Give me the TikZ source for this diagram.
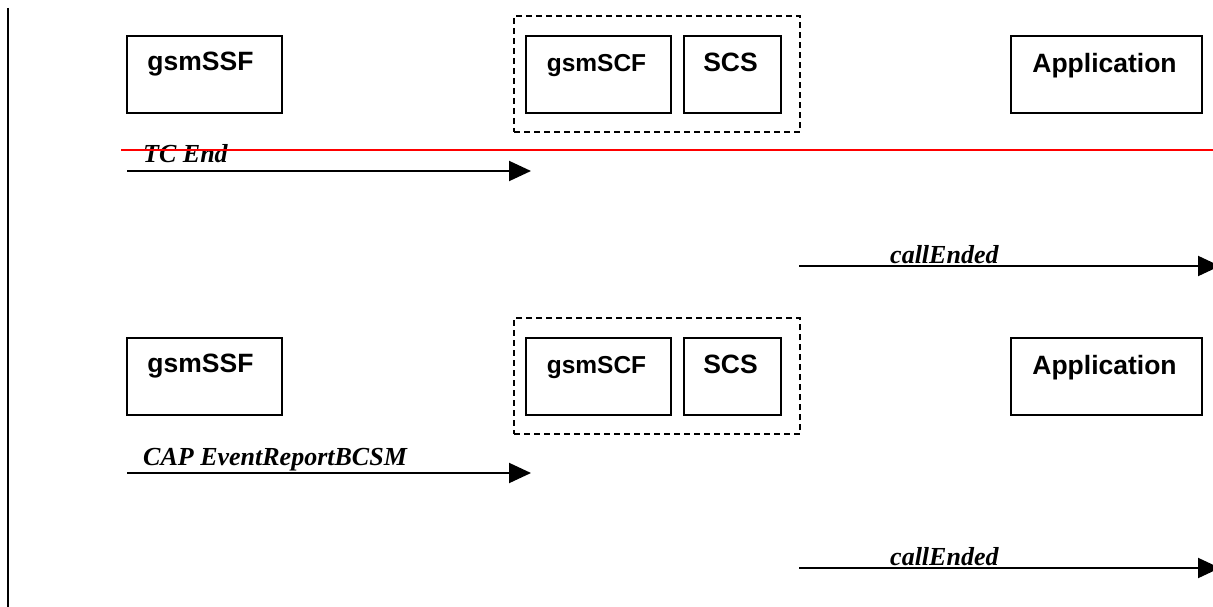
\documentclass[tikz,border=0pt]{standalone}
\usepackage{fontspec}
\setmainfont{Liberation Serif}
\setsansfont{Liberation Sans}
\usetikzlibrary{arrows.meta,calc}
\begin{document}
\begin{tikzpicture}[x=1pt,y=-1pt,
  box/.style={draw=black, line width=1.6pt, minimum width=#1, minimum height=77pt, inner sep=0pt},
  grp/.style={draw=black, line width=1.6pt, dash pattern=on 6pt off 4pt},
  lbl/.style={font=\sffamily\bfseries\fontsize{26.5}{30}\selectfont, anchor=base, inner sep=0pt},
  msg/.style={font=\rmfamily\bfseries\itshape\fontsize{26}{30}\selectfont, anchor=base west, inner sep=0pt},
  arr/.style={line width=2pt, -{Triangle[length=22pt,width=20pt]}}]
\useasboundingbox (0,0) rectangle (1213,607);
\clip (0,0) rectangle (1213,607);
% left vertical rule
\coordinate (vt) at (7.5,8);
\coordinate (vb) at (7.5,607);
\draw[line width=2pt] (vt) -- (vb);
\foreach \dy/\i in {0/1,302/2}{
  \begin{scope}[yshift=-\dy pt]
    \node[grp, minimum width=286pt, minimum height=116pt, inner sep=0pt] (grp\i) at (657,74) {};
    \node[box=155pt] (ssf\i) at (204.5,74.5) {};
    \node[box=145pt] (scf\i) at (598.5,74.5) {};
    \node[box=97pt] (scs\i) at (732.5,74.5) {};
    \node[box=191pt] (app\i) at (1106.5,74.5) {};
    \node[lbl] (ssft\i) at ($(ssf\i.north)+(-4,35)$) {gsmSSF};
    \node[lbl, font=\sffamily\bfseries\fontsize{24.5}{28}\selectfont] (scft\i) at ($(scf\i.north)+(-2,36)$) {gsmSCF};
    \node[lbl] (scst\i) at ($(scs\i.north)+(-2,36)$) {SCS};
    \node[lbl] (appt\i) at ($(app\i.north)+(-2,37)$) {Application};
    \coordinate (a\i s) at (127,171);
    \coordinate (a\i e) at (531,171);
    \coordinate (c\i s) at (799,266);
    \coordinate (c\i e) at (1220,266);
    \draw[arr] (a\i s) -- (a\i e);
    \draw[arr] (c\i s) -- (c\i e);
    \node[msg] (cl\i) at (890,263) {callEnded};
  \end{scope}
}
\node[msg] (tcend) at (143,163) {TC End};
\node[msg] (cap) at (143,465) {CAP EventReportBCSM};
\coordinate (rs) at (121,150);
\coordinate (re) at (1213,150);
\draw[red, line width=2pt] (rs) -- (re);
\end{tikzpicture}
\end{document}
